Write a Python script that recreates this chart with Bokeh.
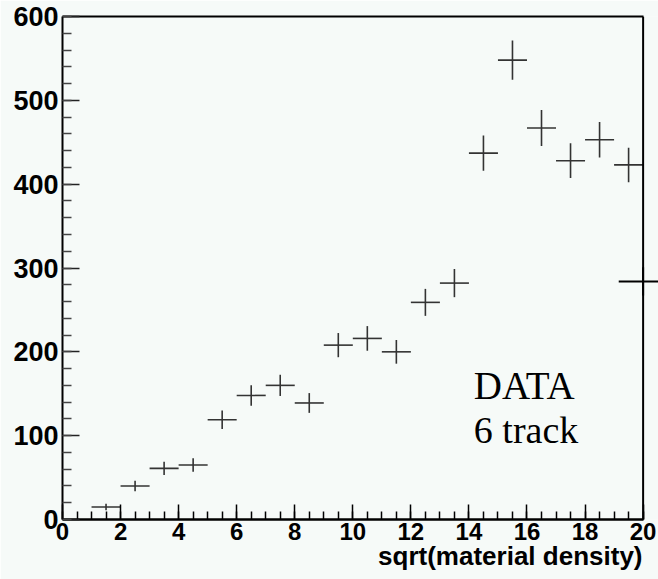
from bokeh.plotting import figure
from bokeh.models import (ColumnDataSource, Range1d, FixedTicker, LinearAxis, Label, Span, Title)
from bokeh.embed import file_html
from bokeh.resources import INLINE
import numpy as np

# ---- data ----
bin_centers = [1.5, 2.5, 3.5, 4.5, 5.5, 6.5, 7.5, 8.5, 9.5, 10.5,
               11.5, 12.5, 13.5, 14.5, 15.5, 16.5, 17.5, 18.5, 19.5]
counts = [15, 40, 61, 65, 119, 148, 160, 139, 208, 216,
          200, 259, 282, 437, 548, 467, 428, 453, 423]
bin_width = 1.0
overflow_x = [20.0]
overflow_y = [284]
overflow_halfwidth = [0.84]
x_ticks = [0, 2, 4, 6, 8, 10, 12, 14, 16, 18, 20]
y_ticks = [0, 100, 200, 300, 400, 500, 600]
x_title = "sqrt(material density)"
text_lines = ["DATA", "6 track"]

BG = "#f6faf8"
INK = "#333333"

c = np.array(bin_centers)
n = np.array(counts, dtype=float)
err = np.sqrt(n)
src = ColumnDataSource(dict(
    x=c, y=n,
    x0=c - bin_width / 2, x1=c + bin_width / 2,
    y0=n - err, y1=n + err,
))

p = figure(width=658, height=579, output_backend="svg", toolbar_location=None,
           x_range=Range1d(0, 20.53), y_range=Range1d(0, 600),
           min_border_left=62, min_border_right=0, min_border_top=16, min_border_bottom=60)
p.background_fill_color = BG
p.border_fill_color = BG
p.outline_line_color = None
p.grid.visible = False

# error crosses
p.segment(x0="x0", y0="y", x1="x1", y1="y", source=src, line_color=INK, line_width=1.6)
p.segment(x0="x", y0="y0", x1="x", y1="y1", source=src, line_color=INK, line_width=1.6)

# overflow marker
ox = np.array(overflow_x); oy = np.array(overflow_y, dtype=float); ohw = np.array(overflow_halfwidth)
osrc = ColumnDataSource(dict(x0=ox - ohw, x1=ox + ohw, y=oy, x=ox, y0=oy - np.sqrt(oy), y1=oy + np.sqrt(oy)))
p.segment(x0="x0", y0="y", x1="x1", y1="y", source=osrc, line_color="black", line_width=2)

# right frame line
p.add_layout(Span(location=20, dimension="height", line_color="black", line_width=2))
p.segment(x0="x", y0="y0", x1="x", y1="y1", source=osrc, line_color="black", line_width=2)

# axes
xa = p.xaxis[0]
xa.bounds = (0, 20)
xa.ticker = FixedTicker(ticks=x_ticks, minor_ticks=list(np.arange(0, 20.01, 0.5)))
xa.major_tick_in = 15
xa.major_tick_out = 0
xa.minor_tick_in = 8
xa.minor_tick_out = 0
xa.axis_line_width = 2.5
xa.axis_line_color = "black"
xa.major_tick_line_color = "black"
xa.minor_tick_line_color = "black"
xa.major_tick_line_width = 1.5
xa.minor_tick_line_width = 1.5
xa.major_label_text_font = "Liberation Sans"
xa.major_label_text_font_style = "bold"
xa.major_label_text_font_size = "24px"
xa.major_label_text_color = "black"
xa.major_label_standoff = 3

ya = p.yaxis[0]
ya.ticker = FixedTicker(ticks=y_ticks, minor_ticks=list(range(0, 601, 20)))
ya.major_tick_in = 17
ya.major_tick_out = 0
ya.minor_tick_in = 9
ya.minor_tick_out = 0
ya.axis_line_width = 2
ya.axis_line_color = "black"
ya.major_tick_line_color = "#222222"
ya.minor_tick_line_color = "#444444"
ya.major_tick_line_width = 1.5
ya.minor_tick_line_width = 1.5
ya.major_label_text_font = "Liberation Sans"
ya.major_label_text_font_style = "bold"
ya.major_label_text_font_size = "27px"
ya.major_label_text_color = "black"
ya.major_label_standoff = 4

# top frame line as an axis with no ticks
top = LinearAxis(bounds=(0, 20), ticker=FixedTicker(ticks=[]), axis_line_width=2,
                 axis_line_color="black", major_tick_line_color=None, minor_tick_line_color=None,
                 major_label_text_font_size="0px")
p.add_layout(top, "above")

# x-axis title, right aligned at x=20
p.add_layout(Title(text=x_title, align="right", offset=16, standoff=-8,
                   text_font="Liberation Sans", text_font_style="bold", text_font_size="26px",
                   text_color="black"), "below")

# annotation text
p.add_layout(Label(x=14.17, y=160, text=text_lines[0], text_align="left", text_baseline="alphabetic",
                   text_font="Liberation Serif", text_font_size="39px", text_color="black"))
p.add_layout(Label(x=14.17, y=107, text=text_lines[1], text_align="left", text_baseline="alphabetic",
                   text_font="Liberation Serif", text_font_size="38px", text_color="black"))

open("out.html", "w").write(file_html(p, INLINE))
